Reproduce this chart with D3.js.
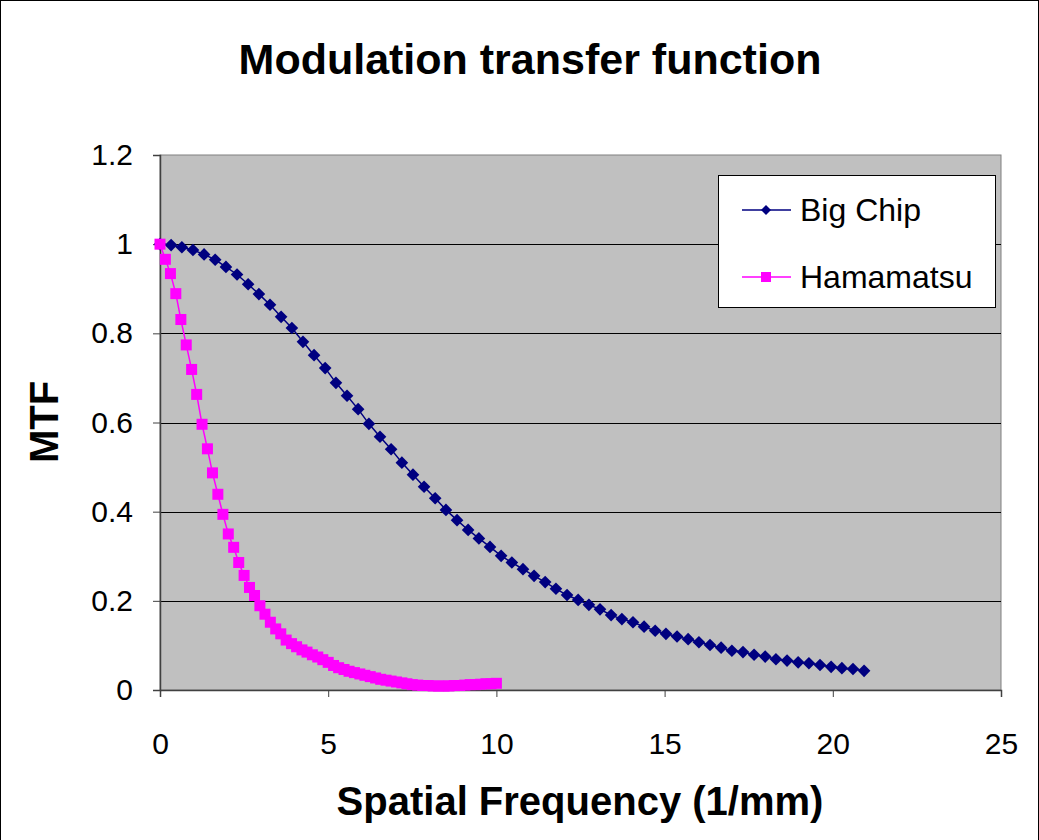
<!DOCTYPE html>
<html>
<head>
<meta charset="utf-8">
<script src="https://cdn.jsdelivr.net/npm/d3@7.9.0/dist/d3.min.js"></script>
<style>
  body { margin: 0; background: #fff; }
  svg { display: block; font-family: "Liberation Sans", Arial, sans-serif; }
</style>
</head>
<body>
<svg id="chart" width="1039" height="840"></svg>
<script>
// Big Chip series (x in 1/mm, MTF)
const bigChipX = [0, 0.33, 0.65, 0.98, 1.31, 1.64, 1.96, 2.29, 2.62, 2.94, 3.27, 3.60, 3.92, 4.25, 4.58, 4.91,
  5.23, 5.56, 5.89, 6.21, 6.54, 6.87, 7.19, 7.52, 7.85, 8.18, 8.50, 8.83, 9.16, 9.48, 9.81, 10.14,
  10.46, 10.79, 11.12, 11.45, 11.77, 12.10, 12.43, 12.75, 13.08, 13.41, 13.73, 14.06, 14.39, 14.72, 15.04, 15.37,
  15.70, 16.02, 16.35, 16.68, 17.00, 17.33, 17.66, 17.99, 18.31, 18.64, 18.97, 19.29, 19.62, 19.95, 20.27, 20.60, 20.93];
const bigChipY = [1.000, 0.998, 0.993, 0.987, 0.977, 0.965, 0.949, 0.932, 0.910, 0.888, 0.864, 0.837, 0.812, 0.781, 0.751, 0.722,
  0.689, 0.660, 0.630, 0.597, 0.568, 0.540, 0.510, 0.483, 0.456, 0.430, 0.404, 0.381, 0.359, 0.340, 0.321, 0.301,
  0.286, 0.271, 0.256, 0.242, 0.227, 0.213, 0.202, 0.191, 0.181, 0.168, 0.159, 0.152, 0.142, 0.133, 0.126, 0.120,
  0.114, 0.107, 0.101, 0.095, 0.088, 0.085, 0.079, 0.075, 0.069, 0.066, 0.062, 0.060, 0.056, 0.052, 0.049, 0.047, 0.043];

// Hamamatsu series
const hamaX = [0, 0.16, 0.31, 0.47, 0.62, 0.78, 0.94, 1.09, 1.25, 1.41, 1.56, 1.72, 1.87, 2.03, 2.19, 2.34,
  2.50, 2.66, 2.81, 2.97, 3.12, 3.28, 3.44, 3.59, 3.75, 3.91, 4.06, 4.22, 4.37, 4.53, 4.69, 4.84,
  5.00, 5.16, 5.31, 5.47, 5.62, 5.78, 5.94, 6.09, 6.25, 6.41, 6.56, 6.72, 6.87, 7.03, 7.19, 7.34,
  7.50, 7.66, 7.81, 7.97, 8.12, 8.28, 8.44, 8.59, 8.75, 8.91, 9.06, 9.22, 9.37, 9.53, 9.69, 9.84, 10.00];
const hamaY = [1.000, 0.966, 0.934, 0.889, 0.831, 0.774, 0.719, 0.663, 0.596, 0.541, 0.487, 0.439, 0.394, 0.350, 0.320, 0.286,
  0.257, 0.230, 0.212, 0.189, 0.170, 0.152, 0.137, 0.126, 0.112, 0.104, 0.097, 0.090, 0.085, 0.079, 0.074, 0.068,
  0.062, 0.055, 0.050, 0.046, 0.042, 0.039, 0.036, 0.033, 0.030, 0.027, 0.024, 0.022, 0.020, 0.018, 0.016, 0.014,
  0.012, 0.011, 0.010, 0.010, 0.009, 0.009, 0.009, 0.009, 0.010, 0.010, 0.011, 0.012, 0.012, 0.013, 0.014, 0.014, 0.015];

const xTicks = [0, 5, 10, 15, 20, 25];
const yTicks = [0, 0.2, 0.4, 0.6, 0.8, 1, 1.2];
const seriesNames = ["Big Chip", "Hamamatsu"];

const svg = d3.select("#chart");
const W = 1039, H = 840;
const plot = { left: 160, right: 1001, top: 155, bottom: 690 };

// chart border
svg.append("rect")
  .attr("x", 0.5).attr("y", 0.5)
  .attr("width", W - 1).attr("height", H + 10)
  .attr("fill", "#fff").attr("stroke", "#000");

const x = d3.scaleLinear().domain([0, 25]).range([plot.left, plot.right]);
const y = d3.scaleLinear().domain([0, 1.2]).range([plot.bottom, plot.top]);

// plot area
svg.append("rect")
  .attr("x", plot.left).attr("y", plot.top)
  .attr("width", plot.right - plot.left).attr("height", plot.bottom - plot.top)
  .attr("fill", "#c0c0c0").attr("stroke", "#808080");

// gridlines
svg.append("g").selectAll("line")
  .data(yTicks.filter(d => d > 0 && d < 1.2))
  .join("line")
  .attr("x1", plot.left).attr("x2", plot.right)
  .attr("y1", d => Math.round(y(d)) + 0.5).attr("y2", d => Math.round(y(d)) + 0.5)
  .attr("stroke", "#000");

// axes
const yAxis = svg.append("g")
  .attr("transform", `translate(${plot.left},0)`)
  .call(d3.axisLeft(y).tickValues(yTicks).tickSize(7).tickPadding(20).tickFormat(d3.format("")));
const xAxis = svg.append("g")
  .attr("transform", `translate(0,${plot.bottom})`)
  .call(d3.axisBottom(x).tickValues(xTicks).tickSize(7).tickPadding(36).tickFormat(d3.format("")));
[yAxis, xAxis].forEach(a => {
  a.select(".domain").attr("stroke", "#404040").attr("stroke-width", 1.5);
  a.selectAll(".tick line").attr("stroke", "#404040");
  a.selectAll("text").attr("font-size", 30).attr("fill", "#000")
    .attr("font-family", "Liberation Sans, Arial, sans-serif");
});

// series
const bigChip = bigChipX.map((v, i) => [v, bigChipY[i]]);
const hama = hamaX.map((v, i) => [v, hamaY[i]]);
const line = d3.line().x(d => x(d[0])).y(d => y(d[1]));

svg.append("path").datum(bigChip)
  .attr("d", line).attr("fill", "none").attr("stroke", "#000080").attr("stroke-width", 1.5);
svg.append("g").selectAll("path")
  .data(bigChip)
  .join("path")
  .attr("d", d3.symbol(d3.symbolSquare, 80)())
  .attr("transform", d => `translate(${x(d[0])},${y(d[1])}) rotate(45)`)
  .attr("fill", "#000080");

svg.append("path").datum(hama)
  .attr("d", line).attr("fill", "none").attr("stroke", "#ff00ff").attr("stroke-width", 1.5);
svg.append("g").selectAll("rect")
  .data(hama)
  .join("rect")
  .attr("x", d => x(d[0]) - 5.5).attr("y", d => y(d[1]) - 5.5)
  .attr("width", 11).attr("height", 11)
  .attr("fill", "#ff00ff");

// legend
const legend = svg.append("g");
legend.append("rect")
  .attr("x", 718.5).attr("y", 175.5).attr("width", 277).attr("height", 132)
  .attr("fill", "#fff").attr("stroke", "#000");
const legColors = ["#000080", "#ff00ff"];
seriesNames.forEach((name, i) => {
  const ly = 210 + i * 67;
  legend.append("line")
    .attr("x1", 742).attr("x2", 791).attr("y1", ly).attr("y2", ly)
    .attr("stroke", legColors[i]).attr("stroke-width", 1.5);
  if (i === 0) {
    legend.append("path")
      .attr("d", d3.symbol(d3.symbolSquare, 50)())
      .attr("transform", `translate(766,${ly}) rotate(45)`)
      .attr("fill", legColors[i]);
  } else {
    legend.append("rect")
      .attr("x", 761).attr("y", ly - 5).attr("width", 10).attr("height", 10)
      .attr("fill", legColors[i]);
  }
  legend.append("text")
    .attr("x", 800).attr("y", ly + 11)
    .attr("font-size", 32).text(name);
});

// titles
svg.append("text")
  .attr("x", 530).attr("y", 74)
  .attr("text-anchor", "middle")
  .attr("font-size", 43).attr("font-weight", "bold")
  .text("Modulation transfer function");

svg.append("text")
  .attr("x", 580).attr("y", 815)
  .attr("text-anchor", "middle")
  .attr("font-size", 40).attr("font-weight", "bold")
  .text("Spatial Frequency (1/mm)");

svg.append("text")
  .attr("transform", "translate(58,422) rotate(-90)")
  .attr("text-anchor", "middle")
  .attr("font-size", 40).attr("font-weight", "bold")
  .text("MTF");
</script>
</body>
</html>
